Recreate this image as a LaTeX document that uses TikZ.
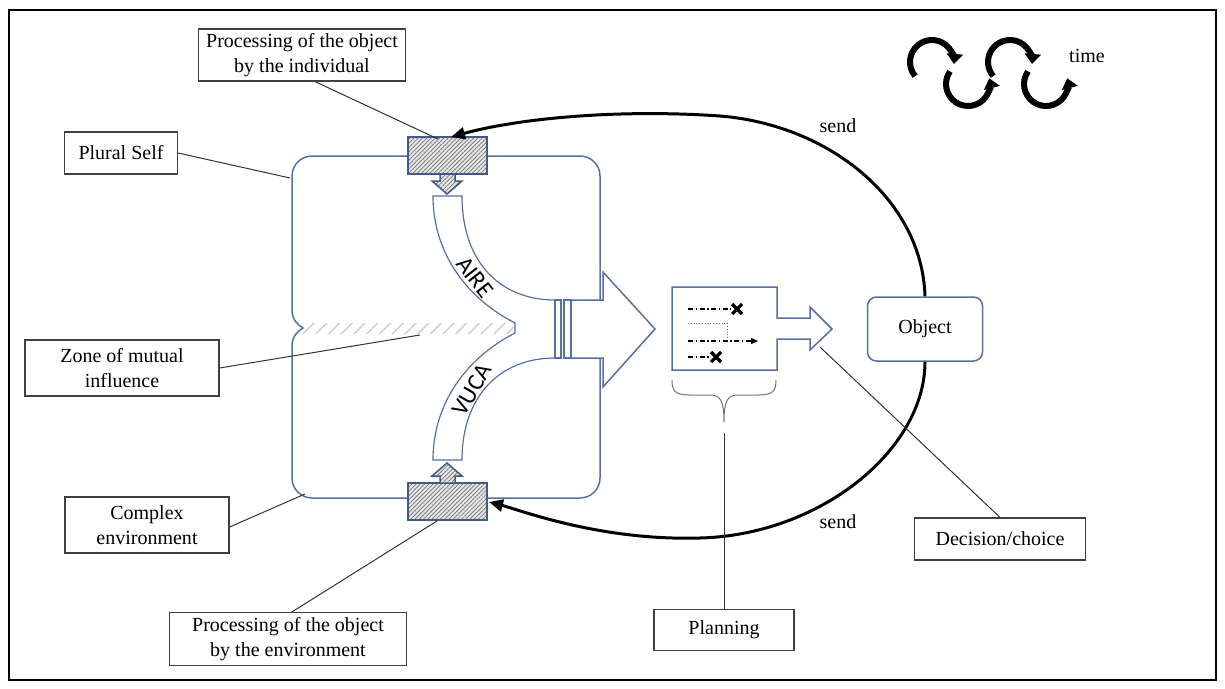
\documentclass[tikz,border=0pt]{standalone}
\usepackage{fontspec}
\setmainfont{Liberation Serif}
\newfontfamily\bandfont{Carlito}
\usetikzlibrary{arrows.meta,patterns.meta,calc}
\definecolor{boxblue}{RGB}{84,112,166}
\newcommand{\lblfont}{\fontsize{20}{25}\selectfont}

\begin{document}
\begin{tikzpicture}[x=1pt,y=-1pt,
  labelbox/.style={draw=black!75, line width=1.2pt, fill=white, align=center, font=\lblfont, inner xsep=6pt, inner ysep=2pt},
  leader/.style={draw=black!80, line width=1pt},
  blueline/.style={draw=boxblue, line width=1.5pt},
  hatchbox/.style={draw=boxblue!80!black, line width=1.5pt, preaction={fill=gray!20}, pattern={Lines[angle=45,distance=3pt,line width=0.7pt]}, pattern color=black!55},
  objbox/.style={blueline, rounded corners=9pt, fill=white, font=\lblfont, minimum width=115pt, minimum height=64pt},
  sendline/.style={line width=3pt, -{Triangle[length=14pt,width=12pt]}},
  timearc/.style={line width=6pt, -{Triangle[length=10pt,width=16pt]}},
  dashdot/.style={line width=1.3pt, dash pattern=on 5pt off 2.5pt on 1.5pt off 2.5pt},
  crossmark/.style={line width=3.2pt},
  textlbl/.style={font=\lblfont}]
\useasboundingbox (0,0) rectangle (1225,688);
\draw[line width=1.5pt] (9,10) rectangle (1216,680);

% zone of mutual influence
\fill[pattern={Lines[angle=45,distance=9pt,line width=1.6pt]}, pattern color=gray!35] (303,323) rectangle (515,333);

% plural self
\draw[blueline] (600,300) -- (600,176) arc[start angle=0, end angle=-90, radius=20] -- (312,156)
  arc[start angle=270, end angle=180, radius=20] -- (292,310)
  .. controls (292,320) and (298,325) .. (303,328)
  .. controls (298,331) and (292,336) .. (292,346) -- (292,478)
  arc[start angle=180, end angle=90, radius=20] -- (580,498)
  arc[start angle=90, end angle=0, radius=20] -- (600,358);

% AIRE / VUCA
\draw[blueline, line width=1.2pt, fill=white] (433,196) -- (462,196)
  .. controls (462,262) and (500,300) .. (555,300) -- (555,358)
  .. controls (500,358) and (462,396) .. (462,460) -- (433,460)
  .. controls (433,400) and (470,356) .. (515,333) -- (515,323)
  .. controls (470,300) and (433,256) .. (433,196) -- cycle;
\node[font=\bandfont\fontsize{24}{24}\selectfont, rotate=-52] (aire) at (475,277) {AIRE};
\node[font=\bandfont\fontsize{24}{24}\selectfont, rotate=60] (vuca) at (472,390) {VUCA};

% output arrow
\draw[blueline, fill=white] (571,300) -- (603,300) -- (603,272) -- (655,329) -- (603,387) -- (603,358) -- (571,358) -- cycle;
\draw[blueline, fill=white] (555,300) rectangle (561,358);
\draw[blueline, fill=white] (564,300) rectangle (571,358);

% processing boxes
\draw[hatchbox] (408,137) rectangle (487,174);
\draw[hatchbox] (440,174) -- (440,181) -- (432,181) -- (447,194) -- (462,181) -- (455,181) -- (455,174) -- cycle;
\draw[hatchbox] (408,483) rectangle (487,520);
\draw[hatchbox] (440,483) -- (440,476) -- (432,476) -- (447,463) -- (462,476) -- (455,476) -- (455,483) -- cycle;

% planning
\draw[blueline, fill=white] (672,287) -- (777,287) -- (777,318) -- (810,318) -- (810,307) -- (832,329)
  -- (810,350) -- (810,339) -- (777,339) -- (777,370) -- (672,370) -- cycle;
\draw[dashdot] (688,309) -- (731,309);
\draw[black!60, line width=0.8pt, dotted] (688,323) -- (727,323) -- (727,338);
\draw[dashdot, -{Triangle[length=7pt,width=6pt]}] (688,341) -- (758,341);
\draw[dashdot] (688,357) -- (711,357);
\foreach \cx/\cy in {737/309, 716/357}
  \draw[crossmark] (\cx-5,\cy-5) -- (\cx+5,\cy+5) (\cx-5,\cy+5) -- (\cx+5,\cy-5);
\draw[black!55, line width=1pt] (672,380) .. controls (672,392) and (676,395) .. (690,395) -- (710,395)
  .. controls (720,395) and (724,400) .. (724,422)
  .. controls (724,400) and (728,395) .. (738,395) -- (758,395)
  .. controls (772,395) and (776,392) .. (776,380);

% object and send
\node[objbox] (object) at (925,329) {Object};
\draw[sendline] (object.north) .. controls (922,200) and (830,125) .. (720,116)
  .. controls (620,109) and (520,118) .. (451,137);
\draw[sendline] (object.south) .. controls (925,450) and (820,535) .. (700,538)
  .. controls (600,541) and (520,510) .. (489,502);
\node[textlbl] (sendtop) at (838,126) {send};
\node[textlbl] (sendbot) at (838,522) {send};

% time
\draw[timearc] ($(932,62)+(140:22)$) arc[start angle=140, end angle=365, radius=22];
\draw[timearc] ($(968,84)+(215:22)$) arc[start angle=215, end angle=-15, radius=22];
\draw[timearc] ($(1010,62)+(140:22)$) arc[start angle=140, end angle=365, radius=22];
\draw[timearc] ($(1046,84)+(215:22)$) arc[start angle=215, end angle=-15, radius=22];
\node[textlbl] (timelbl) at (1087,56) {time};

% labels
\node[labelbox, minimum width=207pt, minimum height=52pt] (indiv) at (302,55) {Processing of the object\\by the individual};
\node[labelbox, minimum width=113pt, minimum height=42pt] (plural) at (121,153) {Plural Self};
\node[labelbox, minimum width=194pt, minimum height=56pt] (zone) at (122,368) {Zone of mutual\\influence};
\node[labelbox, minimum width=164pt, minimum height=56pt] (complex) at (147,525) {Complex\\environment};
\node[labelbox, minimum width=237pt, minimum height=53pt] (envproc) at (288,639) {Processing of the object\\by the environment};
\node[labelbox, minimum width=140pt, minimum height=41pt] (planning) at (724,630) {Planning};
\node[labelbox, minimum width=171pt, minimum height=42pt] (decision) at (1000,539) {Decision/choice};

\coordinate (indivhit) at (438,139);
\coordinate (selfhit) at (290,178);
\coordinate (zonehit) at (420,335);
\coordinate (envhit) at (305,494);
\coordinate (envprochit) at (437,521);
\coordinate (bracetip) at (724,433);
\coordinate (choicehit) at (820,347);

\draw[leader] ($(indiv.south)+(13,0)$) -- (indivhit);
\draw[leader] (plural.east) -- (selfhit);
\draw[leader] (zone.east) -- (zonehit);
\draw[leader] ($(complex.east)+(0,2)$) -- (envhit);
\draw[leader] ($(envproc.north)+(4,0)$) -- (envprochit);
\draw[leader] (planning.north) -- (bracetip);
\draw[leader] (decision.north) -- (choicehit);
\end{tikzpicture}
\end{document}
